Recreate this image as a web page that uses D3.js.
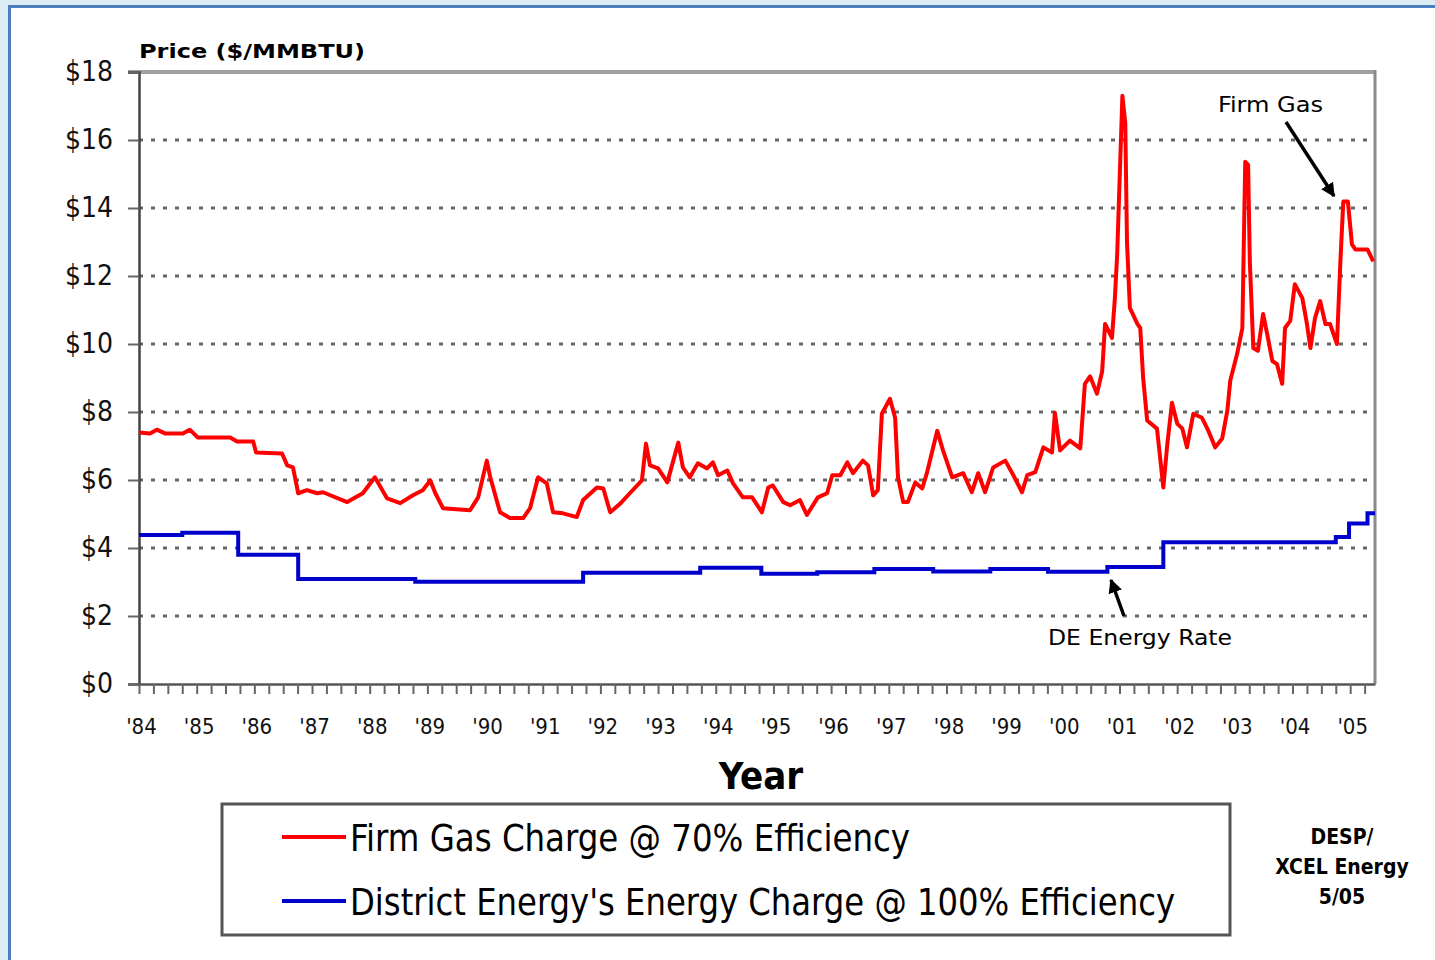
<!DOCTYPE html>
<html>
<head>
<meta charset="utf-8">
<script src="https://cdn.jsdelivr.net/npm/d3@7"></script>
<style>
  body { margin: 0; background: #dcecf5; }
  svg { display: block; }
</style>
</head>
<body>
<script>
// Firm gas charge @ 70% efficiency (decimal year, $/MMBTU)
const firmGasYear = [
  1984.00, 1984.19, 1984.31, 1984.45, 1984.76, 1984.88, 1985.02, 1985.58, 1985.70, 1985.98,
  1986.03, 1986.48, 1986.57, 1986.67, 1986.76, 1986.91, 1987.09, 1987.19, 1987.61, 1987.88,
  1988.09, 1988.30, 1988.53, 1988.75, 1988.92, 1989.05, 1989.13, 1989.27, 1989.74, 1989.88,
  1990.03, 1990.09, 1990.26, 1990.43, 1990.66, 1990.78, 1990.92, 1991.07, 1991.18, 1991.35,
  1991.59, 1991.70, 1991.94, 1992.05, 1992.17, 1992.34, 1992.51, 1992.72, 1992.79, 1992.86,
  1993.00, 1993.16, 1993.35, 1993.43, 1993.55, 1993.69, 1993.85, 1993.95, 1994.04, 1994.20,
  1994.30, 1994.47, 1994.63, 1994.80, 1994.91, 1994.99, 1995.17, 1995.29, 1995.46, 1995.58,
  1995.77, 1995.93, 1996.02, 1996.16, 1996.28, 1996.38, 1996.55, 1996.64, 1996.73, 1996.81,
  1996.88, 1997.02, 1997.11, 1997.16, 1997.25, 1997.33, 1997.46, 1997.58, 1997.66, 1997.84,
  1997.94, 1998.10, 1998.29, 1998.44, 1998.55, 1998.67, 1998.81, 1999.02, 1999.16, 1999.31,
  1999.40, 1999.54, 1999.68, 1999.83, 1999.88, 1999.97, 2000.14, 2000.32, 2000.40, 2000.49,
  2000.61, 2000.70, 2000.75, 2000.87, 2000.92, 2000.96, 2001.05, 2001.10, 2001.13, 2001.18,
  2001.31, 2001.36, 2001.41, 2001.48, 2001.65, 2001.76, 2001.83, 2001.91, 2002.00, 2002.09,
  2002.17, 2002.28, 2002.43, 2002.54, 2002.66, 2002.78, 2002.87, 2002.92, 2003.04, 2003.13,
  2003.18, 2003.23, 2003.26, 2003.32, 2003.40, 2003.49, 2003.56, 2003.65, 2003.73, 2003.82,
  2003.87, 2003.96, 2004.04, 2004.17, 2004.25, 2004.31, 2004.39, 2004.48, 2004.57, 2004.65,
  2004.77, 2004.83, 2004.88, 2004.96, 2005.03, 2005.09, 2005.30, 2005.40
];
const firmGasPrice = [
  7.40, 7.37, 7.48, 7.37, 7.37, 7.48, 7.25, 7.25, 7.13, 7.13,
  6.81, 6.78, 6.43, 6.37, 5.61, 5.70, 5.61, 5.64, 5.35, 5.61,
  6.08, 5.46, 5.32, 5.55, 5.70, 5.99, 5.64, 5.17, 5.11, 5.49,
  6.57, 6.08, 5.05, 4.88, 4.88, 5.17, 6.08, 5.90, 5.05, 5.02,
  4.91, 5.41, 5.78, 5.75, 5.05, 5.30, 5.61, 5.99, 7.07, 6.43,
  6.34, 5.93, 7.10, 6.37, 6.08, 6.49, 6.34, 6.52, 6.14, 6.28,
  5.90, 5.49, 5.49, 5.05, 5.78, 5.84, 5.35, 5.26, 5.41, 4.97,
  5.49, 5.61, 6.14, 6.14, 6.52, 6.20, 6.57, 6.43, 5.55, 5.70,
  7.95, 8.39, 7.83, 6.08, 5.35, 5.35, 5.93, 5.75, 6.20, 7.45,
  6.87, 6.08, 6.20, 5.64, 6.20, 5.64, 6.37, 6.57, 6.14, 5.64,
  6.14, 6.23, 6.96, 6.81, 7.98, 6.87, 7.16, 6.93, 8.83, 9.05,
  8.54, 9.20, 10.59, 10.18, 11.35, 12.64, 17.30, 16.50, 13.00, 11.06,
  10.59, 10.47, 9.00, 7.75, 7.51, 5.78, 7.07, 8.27, 7.66, 7.51,
  6.96, 7.95, 7.83, 7.45, 6.96, 7.22, 8.04, 8.92, 9.71, 10.47,
  15.36, 15.27, 12.43, 9.88, 9.80, 10.88, 10.30, 9.50, 9.41, 8.83,
  10.47, 10.68, 11.76, 11.35, 10.59, 9.88, 10.76, 11.26, 10.59, 10.59,
  10.00, 12.43, 14.19, 14.19, 12.93, 12.78, 12.78, 12.43
];

// District Energy's energy charge @ 100% efficiency (step changes)
const deRateYear = [
  1984.00, 1984.75, 1985.72, 1986.76, 1988.79, 1991.70, 1993.73, 1994.79, 1995.76, 1996.75,
  1997.77, 1998.76, 1999.76, 2000.79, 2001.76, 2004.75, 2004.98, 2005.30, 2005.43
];
const deRatePrice = [
  4.38, 4.45, 3.80, 3.09, 3.01, 3.27, 3.42, 3.24, 3.29, 3.38,
  3.31, 3.38, 3.30, 3.44, 4.17, 4.32, 4.72, 5.02, 5.02
];

const priceTicks = [0, 2, 4, 6, 8, 10, 12, 14, 16, 18];
const yearTicks = d3.range(1984, 2006);
const quarterTicks = d3.range(1984, 2005.5, 0.25);
const legendLabels = ["Firm Gas Charge @ 70% Efficiency", "District Energy's Energy Charge @ 100% Efficiency"];
const sourceLines = ["DESP/", "XCEL Energy", "5/05"];

const W = 1435, H = 960;
const margin = { top: 72, right: 60, bottom: 276, left: 139 };
const plotW = W - margin.left - margin.right,
  plotH = H - margin.top - margin.bottom;

const narrow = "'DejaVu Sans Condensed', 'Liberation Sans Narrow', 'DejaVu Sans', sans-serif";

const svg = d3.select("body").append("svg")
  .attr("width", W)
  .attr("height", H);

// white panel with blue frame
svg.append("rect").attr("width", W).attr("height", H).attr("fill", "#dcecf5");
svg.append("rect")
  .attr("x", 9.5).attr("y", 6.5)
  .attr("width", W + 20).attr("height", H + 20)
  .attr("fill", "#ffffff")
  .attr("stroke", "#4d7fbf")
  .attr("stroke-width", 3);

const g = svg.append("g")
  .attr("transform", "translate(" + margin.left + "," + margin.top + ")");

const x = d3.scaleLinear().domain([1984, 2005.43]).range([0, plotW]);
const y = d3.scaleLinear().domain([0, 18]).range([plotH, 0]);

// dotted grid
g.selectAll(".grid")
  .data(priceTicks.filter(d => d > 0 && d < 18))
  .enter()
  .append("line")
  .attr("x1", 0)
  .attr("x2", plotW - 4)
  .attr("y1", d => y(d))
  .attr("y2", d => y(d))
  .attr("stroke", "#666")
  .attr("stroke-width", 3)
  .attr("stroke-dasharray", "4,8");

// frame: top and right in grey
g.append("line").attr("x1", -11).attr("x2", plotW).attr("y1", 0).attr("y2", 0)
  .attr("stroke", "#a0a0a0").attr("stroke-width", 4);
g.append("line").attr("x1", plotW).attr("x2", plotW).attr("y1", -2).attr("y2", plotH)
  .attr("stroke", "#8a8a8a").attr("stroke-width", 3);

// Y axis
const yAxis = g.append("g")
  .call(d3.axisLeft(y).tickValues(priceTicks).tickFormat(d => "$" + d).tickSize(11).tickPadding(15));
yAxis.select(".domain").attr("stroke", "#444").attr("stroke-width", 2.5);
yAxis.selectAll(".tick line").attr("stroke", "#666").attr("stroke-width", 2);
yAxis.selectAll("text")
  .attr("font-family", narrow)
  .attr("font-size", 28)
  .attr("fill", "#111");

// X axis: quarterly ticks
const xAxis = g.append("g")
  .attr("transform", "translate(0," + plotH + ")")
  .call(d3.axisBottom(x).tickValues(quarterTicks).tickFormat("").tickSize(10).tickSizeOuter(0));
xAxis.select(".domain").attr("stroke", "#555").attr("stroke-width", 2.5);
xAxis.selectAll(".tick line").attr("stroke", "#666").attr("stroke-width", 2);

// X axis: year labels
const xLabels = g.append("g")
  .attr("transform", "translate(0," + plotH + ")")
  .call(d3.axisBottom(x).tickValues(yearTicks).tickFormat(d => "'" + String(d).slice(2)).tickSize(0).tickPadding(34));
xLabels.select(".domain").remove();
xLabels.selectAll("text")
  .attr("font-family", narrow)
  .attr("font-size", 22)
  .attr("fill", "#111")
  .attr("dx", 2);

// lines
const line = d3.line()
  .x(d => x(d[0]))
  .y(d => y(d[1]));

g.append("path")
  .datum(deRateYear.map((d, i) => [d, deRatePrice[i]]))
  .attr("fill", "none")
  .attr("stroke", "#0000cc")
  .attr("stroke-width", 4)
  .attr("d", line.curve(d3.curveStepAfter));

g.append("path")
  .datum(firmGasYear.map((d, i) => [d, firmGasPrice[i]]))
  .attr("fill", "none")
  .attr("stroke", "#ff0000")
  .attr("stroke-width", 4)
  .attr("stroke-linejoin", "round")
  .attr("d", line.curve(d3.curveLinear));

// axis titles
g.append("text")
  .attr("x", 0).attr("y", -14)
  .attr("font-family", "'DejaVu Sans', sans-serif")
  .attr("font-weight", "bold")
  .attr("font-size", 20)
  .attr("textLength", 226)
  .attr("lengthAdjust", "spacingAndGlyphs")
  .text("Price ($/MMBTU)");

svg.append("text")
  .attr("x", 761).attr("y", 789)
  .attr("text-anchor", "middle")
  .attr("font-family", narrow)
  .attr("font-weight", "bold")
  .attr("font-size", 38)
  .text("Year");

// annotations with arrows
const defs = svg.append("defs");
defs.append("marker")
  .attr("id", "arrow")
  .attr("viewBox", "0 0 10 10")
  .attr("refX", 9).attr("refY", 5)
  .attr("markerWidth", 4).attr("markerHeight", 4)
  .attr("orient", "auto")
  .append("path")
  .attr("d", "M0,0 L10,5 L0,10 z")
  .attr("fill", "#000");

svg.append("text")
  .attr("x", 1218).attr("y", 112)
  .attr("font-family", narrow)
  .attr("font-size", 22)
  .attr("textLength", 105)
  .attr("lengthAdjust", "spacingAndGlyphs")
  .text("Firm Gas");
svg.append("line")
  .attr("x1", 1286).attr("y1", 122)
  .attr("x2", 1334).attr("y2", 196)
  .attr("stroke", "#000").attr("stroke-width", 3.5)
  .attr("marker-end", "url(#arrow)");

svg.append("text")
  .attr("x", 1048).attr("y", 645)
  .attr("font-family", narrow)
  .attr("font-size", 22)
  .attr("textLength", 184)
  .attr("lengthAdjust", "spacingAndGlyphs")
  .text("DE Energy Rate");
svg.append("line")
  .attr("x1", 1124).attr("y1", 616)
  .attr("x2", 1111).attr("y2", 580)
  .attr("stroke", "#000").attr("stroke-width", 3.5)
  .attr("marker-end", "url(#arrow)");

// legend
const legend = svg.append("g");
legend.append("rect")
  .attr("x", 222).attr("y", 804)
  .attr("width", 1008).attr("height", 131)
  .attr("fill", "#fff")
  .attr("stroke", "#555")
  .attr("stroke-width", 3);

const legendColors = ["#ff0000", "#0000cc"];
const legendWidths = [560, 825];
legendLabels.forEach((label, i) => {
  const ly = 837 + i * 64;
  legend.append("line")
    .attr("x1", 282).attr("x2", 346)
    .attr("y1", ly).attr("y2", ly)
    .attr("stroke", legendColors[i])
    .attr("stroke-width", 4);
  legend.append("text")
    .attr("x", 350).attr("y", ly + 14)
    .attr("font-family", narrow)
    .attr("font-size", 38)
    .attr("textLength", legendWidths[i])
    .attr("lengthAdjust", "spacingAndGlyphs")
    .text(label);
});

// source note
svg.append("g")
  .selectAll("text")
  .data(sourceLines)
  .enter()
  .append("text")
  .attr("x", 1342)
  .attr("y", (d, i) => 844 + i * 30)
  .attr("text-anchor", "middle")
  .attr("font-family", narrow)
  .attr("font-weight", "bold")
  .attr("font-size", 21)
  .text(d => d);
</script>
</body>
</html>
